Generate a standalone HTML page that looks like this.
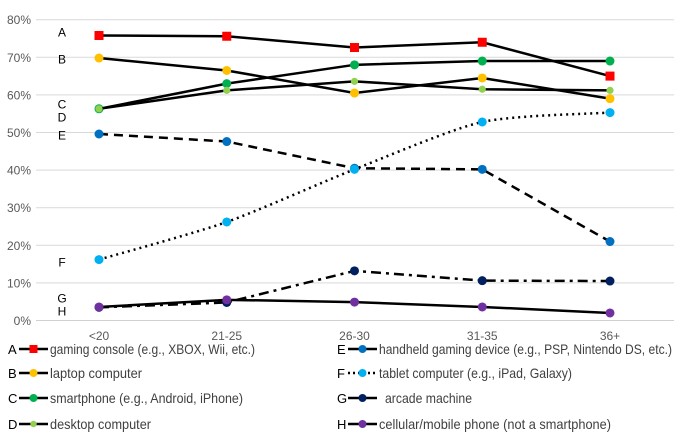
<!DOCTYPE html>
<html><head><meta charset="utf-8"><style>
body{margin:0;background:#fff}
svg{display:block;font-family:"Liberation Sans",sans-serif}
</style></head><body>
<svg id="chart" width="674" height="442" viewBox="0 0 674 442" xmlns="http://www.w3.org/2000/svg">
<g id="grid"></g>
<g id="yaxis"></g>
<g id="xaxis"></g>
<g id="series"></g>
<g id="labels"></g>
<g id="legend"></g>
</svg>
<script>
const categories = ["<20","21-25","26-30","31-35","36+"];
const yTicks = [0,10,20,30,40,50,60,70,80];
const seriesA = [75.8,75.6,72.6,74.0,65.0];
const seriesB = [69.8,66.5,60.5,64.5,59.0];
const seriesC = [56.3,63.0,68.0,69.0,69.0];
const seriesD = [56.3,61.2,63.6,61.5,61.2];
const seriesE = [49.6,47.6,40.5,40.2,21.0];
const seriesF = [16.2,26.2,40.2,52.8,55.3];
const seriesG = [3.5,4.8,13.2,10.6,10.5];
const seriesH = [3.6,5.5,4.9,3.6,2.0];
const letters = ["A","B","C","D","E","F","G","H"];
const names = ["gaming console (e.g., XBOX, Wii, etc.)","laptop computer","smartphone (e.g., Android, iPhone)","desktop computer","handheld gaming device (e.g., PSP, Nintendo DS, etc.)","tablet computer (e.g., iPad, Galaxy)","arcade machine","cellular/mobile phone (not a smartphone)"];

const NS="http://www.w3.org/2000/svg";
const x = i => 99 + i*127.75;
const y = v => 320.5 - v*3.76;
function mk(tag, attrs, parent){const e=document.createElementNS(NS,tag);for(const k in attrs)e.setAttribute(k,attrs[k]);parent.appendChild(e);return e;}
const grid=document.getElementById('grid'), yaxis=document.getElementById('yaxis'), xaxis=document.getElementById('xaxis'), ser=document.getElementById('series'), lab=document.getElementById('labels'), leg=document.getElementById('legend');

yTicks.forEach(t=>{
  const l=mk('line',{x1:36,x2:674,y1:y(t),y2:y(t),stroke:t===0?'#d0d0d0':'#d9d9d9','stroke-width':1},grid);
  
  
  const tx=mk('text',{x:31,y:y(t)+4.5,'text-anchor':'end','font-size':12,fill:'#595959'},yaxis);
  tx.textContent=t+'%';
  
  
});
categories.forEach((c,i)=>{
  const tx=mk('text',{x:x(i),y:340,'text-anchor':'middle','font-size':12,fill:'#595959'},xaxis);
  tx.textContent=c;
  
  
});

const all=[seriesA,seriesB,seriesC,seriesD,seriesE,seriesF,seriesG,seriesH];
const colors=['#ff0000','#ffc000','#00b050','#92d050','#0070c0','#00b0f0','#002060','#7030a0'];
const dashes=['','','','','9,6','2,4','10,5,3,5','',];
const shapes=['sq','c','c','d','c','c','c','c'];
const smooth=[false,false,false,false,false,true,false,false];

function pathFor(vals, sm){
  const p=vals.map((v,i)=>[x(i),y(v)]);
  if(!sm) return 'M'+p.map(q=>q[0]+','+q[1]).join(' L');
  let d='M'+p[0][0]+','+p[0][1];
  for(let i=0;i<p.length-1;i++){
    const p0=p[i-1]||p[i],p1=p[i],p2=p[i+1],p3=p[i+2]||p2;
    const t=0.12;
    d+=` C${p1[0]+(p2[0]-p0[0])*t},${p1[1]+(p2[1]-p0[1])*t} ${p2[0]-(p3[0]-p1[0])*t},${p2[1]-(p3[1]-p1[1])*t} ${p2[0]},${p2[1]}`;
  }
  return d;
}
function marker(shape,cx,cy,col,parent,r){
  let m;
  if(shape==='sq') m=mk('rect',{x:cx-r,y:cy-r,width:2*r,height:2*r,fill:col},parent);
  else if(shape==='d') m=mk('circle',{cx:cx,cy:cy,r:r*0.8,fill:col},parent);
  else m=mk('circle',{cx:cx,cy:cy,r:r,fill:col},parent);
  return m;
}
all.forEach((vals,s)=>{
  const g=mk('g',{},ser);
  
  
  const pa=mk('path',{d:pathFor(vals,smooth[s]),fill:'none',stroke:'#000','stroke-width':2.5,'stroke-dasharray':dashes[s]||'none'},g);
  
  
  vals.forEach((v,i)=>{
    const m=marker(shapes[s],x(i),y(v),colors[s],g,4.5);
    
    
  });
});

const letterY=[32,59,104,117,135,262,298,311];
letters.forEach((L,i)=>{
  const t=mk('text',{x:62,y:letterY[i]+4.5,'text-anchor':'middle','font-size':12,fill:'#000'},lab);
  t.textContent=L;
  
  
});

const rowY=[349,373,398,424];
const textW=[205,92,193,101,293,193,87,232];
letters.forEach((L,i)=>{
  const col=i<4?0:1, row=i%4;
  const lx=col?337:8, ly=rowY[row];
  const g=mk('g',{},leg);
  
  
  const t1=mk('text',{x:lx,y:ly+5,'font-size':13,fill:'#000'},g);
  t1.textContent=L;
  const x1=lx+11,x2=lx+40;
  mk('line',{x1:x1,x2:x2,y1:ly,y2:ly,stroke:'#000','stroke-width':2.5,'stroke-dasharray':i===5?'2,3':'none'},g);
  marker(shapes[i],(x1+x2)/2,ly,colors[i],g,4);
  const t2=mk('text',{x:x2+2+(i===6?6:0),y:ly+5,'font-size':14,fill:'#404040',textLength:textW[i],lengthAdjust:'spacingAndGlyphs'},g);
  t2.textContent=names[i];
});
</script>
</body></html>
